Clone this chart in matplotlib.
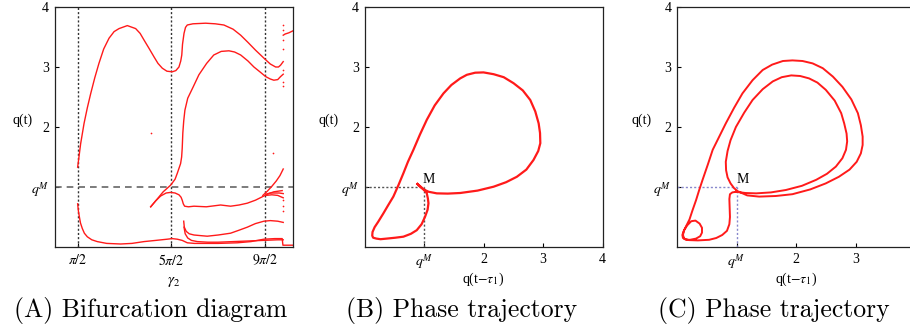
import numpy as np
import matplotlib.pyplot as plt

plt.rcParams['font.family'] = ['Liberation Serif', 'DejaVu Serif']
plt.rcParams['mathtext.fontset'] = 'stix'

# ---- panel A: bifurcation branches (gamma_2 vs q) ----
upper_x = [1.55, 1.75, 1.98, 2.2, 2.43, 2.7, 2.98, 3.3, 3.66, 4.0, 4.33, 4.89, 5.45, 5.75,
           6.01, 6.35, 6.68, 6.95, 7.24, 7.55, 7.91, 8.15, 8.36, 8.48, 8.55, 8.6, 8.7, 8.8,
           8.92, 9.3, 10.15, 10.8, 11.38, 12.0, 12.51, 13.0, 13.51, 13.85, 14.19, 14.5,
           14.86, 15.05, 15.19, 15.37]
upper_y = [1.33, 1.72, 2.06, 2.32, 2.56, 2.82, 3.06, 3.30, 3.48, 3.59, 3.64, 3.69, 3.64, 3.56,
           3.45, 3.31, 3.17, 3.06, 2.98, 2.93, 2.92, 2.94, 3.0, 3.1, 3.2, 3.38, 3.56, 3.66,
           3.70, 3.72, 3.73, 3.72, 3.70, 3.63, 3.53, 3.41, 3.28, 3.20, 3.12, 3.05,
           3.00, 3.0, 3.03, 3.09]

arc2_x = [6.46, 6.9, 7.3, 7.8, 8.1, 8.25, 8.47, 8.54, 8.58, 8.62, 8.68, 8.76, 8.95, 9.32, 9.7,
          10.22, 10.7, 11.2, 11.72, 12.1, 12.51, 13.0, 13.4, 13.8, 14.19, 14.5, 14.74, 15.0,
          15.19, 15.37]
arc2_y = [0.67, 0.80, 0.92, 1.03, 1.13, 1.23, 1.39, 1.5, 1.65, 1.9, 2.1, 2.28, 2.48, 2.67, 2.87,
          3.06, 3.20, 3.26, 3.27, 3.25, 3.20, 3.10, 3.0, 2.92, 2.84, 2.80, 2.78, 2.79,
          2.84, 2.88]

mid_x = [6.46, 6.8, 7.13, 7.5, 7.8, 8.1, 8.36, 8.5, 8.58, 8.65, 8.74, 9.0, 9.37, 10.2, 11.16,
         11.83, 12.4, 12.95, 13.5, 14.07, 14.4, 14.74, 15.3]
mid_y = [0.67, 0.77, 0.85, 0.90, 0.91, 0.90, 0.87, 0.83, 0.78, 0.72, 0.68, 0.67, 0.68, 0.67, 0.70,
         0.68, 0.70, 0.73, 0.78, 0.85, 0.89, 0.92, 0.94]

low_x = [1.55, 1.6, 1.66, 1.74, 1.86, 2.0, 2.2, 2.5, 2.87, 3.5, 4.44, 5.2, 6.01, 6.8, 7.57,
         7.9, 8.25, 8.58, 8.92, 9.4, 10.04, 11.0, 12.28, 13.2, 14.07, 14.8, 15.3, 15.35,
         15.5, 16.0]
low_y = [0.72, 0.60, 0.51, 0.40, 0.31, 0.23, 0.17, 0.12, 0.09, 0.06, 0.05, 0.06, 0.09, 0.11, 0.13,
         0.14, 0.13, 0.11, 0.07, 0.06, 0.06, 0.06, 0.07, 0.09, 0.13, 0.14, 0.14, 0.03,
         0.03, 0.03]

c1_x = [8.68, 8.72, 8.85, 9.05, 9.37, 9.8, 10.26, 11.0, 11.83, 12.4, 12.95, 13.5, 14.07, 14.5,
        15.0, 15.37]
c1_y = [0.43, 0.33, 0.26, 0.22, 0.20, 0.19, 0.18, 0.20, 0.23, 0.28, 0.33, 0.39, 0.43, 0.44,
        0.43, 0.41]

c2_x = [8.7, 8.78, 8.95, 9.2, 9.6, 10.3, 11.0, 12.0, 13.0, 14.0, 15.0, 15.37]
c2_y = [0.33, 0.22, 0.15, 0.11, 0.09, 0.08, 0.08, 0.09, 0.10, 0.11, 0.12, 0.12]

r1_x = [14.0, 14.3, 14.6, 14.9, 15.15, 15.37]
r1_y = [0.86, 0.93, 1.01, 1.10, 1.19, 1.30]
r2_x = [14.2, 14.5, 14.8, 15.1, 15.37]
r2_y = [0.88, 0.90, 0.90, 0.90, 0.89]
r3_x = [14.2, 14.6, 15.0, 15.37]
r3_y = [0.86, 0.87, 0.86, 0.82]

stub_x = [15.37, 15.5, 15.75, 16.0]
stub_y = [3.53, 3.55, 3.57, 3.60]

dots_x = [6.48, 14.66, 15.37, 15.37, 15.37, 15.37, 15.37, 15.37, 15.37, 15.37, 15.37, 15.37]
dots_y = [1.9, 1.56, 3.7, 3.62, 3.45, 3.3, 2.95, 2.75, 2.68, 0.78, 0.68, 0.6]

# ---- panel B: phase trajectory ----
b_x = [0.89, 0.95, 0.99, 1.08, 1.215, 1.40, 1.608, 1.90, 2.17, 2.38, 2.56, 2.72, 2.84, 2.92,
       2.955, 2.95, 2.927, 2.87, 2.786, 2.66, 2.505, 2.34, 2.17, 2.0, 1.86, 1.72, 1.608,
       1.46, 1.327, 1.18, 1.047, 0.93, 0.822, 0.73, 0.654, 0.57, 0.485, 0.40, 0.317, 0.23,
       0.17, 0.135, 0.13, 0.145, 0.2, 0.27, 0.373, 0.52, 0.654, 0.78, 0.878, 0.96, 1.018,
       1.06, 1.075, 1.065, 1.047, 1.02, 0.99, 0.93, 0.89]
b_y = [1.05, 1.0, 0.961, 0.92, 0.894, 0.89, 0.90, 0.94, 1.005, 1.08, 1.17, 1.29, 1.45, 1.60,
       1.73, 1.90, 2.06, 2.26, 2.45, 2.61, 2.73, 2.83, 2.88, 2.91, 2.905, 2.87, 2.81,
       2.70, 2.56, 2.36, 2.12, 1.87, 1.62, 1.42, 1.23, 1.03, 0.84, 0.70, 0.56, 0.42,
       0.33, 0.25, 0.19, 0.155, 0.14, 0.13, 0.14, 0.155, 0.172, 0.22, 0.28, 0.38, 0.505,
       0.62, 0.728, 0.81, 0.894, 0.93, 0.961, 1.01, 1.05]

# ---- panel C: phase trajectory (period doubled) ----
c_x = [0.99, 1.15, 1.33, 1.58, 1.83, 2.10, 2.34, 2.52, 2.67, 2.78, 2.84, 2.86, 2.85, 2.81,
       2.76, 2.65, 2.50, 2.36, 2.22, 2.07, 1.92, 1.76, 1.61, 1.44, 1.27, 1.13, 0.99, 0.90,
       0.85, 0.82, 0.825, 0.85, 0.90, 0.96, 1.02,
       1.18, 1.38, 1.66, 1.94, 2.24, 2.50, 2.72, 2.90, 3.02, 3.09, 3.12, 3.12, 3.09, 3.04,
       2.93, 2.78, 2.62, 2.45, 2.28, 2.11, 1.94, 1.78, 1.60, 1.44, 1.27, 1.10, 0.96, 0.82,
       0.71, 0.60, 0.52, 0.43, 0.37, 0.32, 0.26, 0.21, 0.15, 0.11,
       0.09, 0.10, 0.15, 0.22, 0.32, 0.39, 0.42, 0.42, 0.38, 0.31, 0.24, 0.17, 0.12, 0.10,
       0.12, 0.20, 0.35, 0.54, 0.66, 0.76, 0.84, 0.88, 0.89, 0.885, 0.88, 0.89, 0.93, 0.99]
c_y = [0.92, 0.90, 0.894, 0.91, 0.95, 1.02, 1.12, 1.22, 1.34, 1.48, 1.62, 1.76, 1.89, 2.06,
       2.23, 2.44, 2.62, 2.74, 2.81, 2.85, 2.86, 2.83, 2.76, 2.63, 2.45, 2.24, 2.0, 1.78,
       1.6, 1.42, 1.28, 1.16, 1.06, 0.98, 0.93,
       0.86, 0.84, 0.85, 0.88, 0.96, 1.06, 1.17, 1.29, 1.42, 1.56, 1.70, 1.84, 2.03, 2.23,
       2.46, 2.67, 2.84, 2.98, 3.06, 3.10, 3.11, 3.10, 3.04, 2.95, 2.78, 2.56, 2.32, 2.06,
       1.84, 1.62, 1.38, 1.12, 0.94, 0.78, 0.61, 0.46, 0.34, 0.26,
       0.20, 0.15, 0.12, 0.12, 0.14, 0.18, 0.24, 0.32, 0.39, 0.44, 0.43, 0.36, 0.28, 0.20,
       0.14, 0.115, 0.11, 0.12, 0.15, 0.20, 0.27, 0.38, 0.50, 0.65, 0.80, 0.88, 0.91, 0.92]

q_M = 1.0
red = '#ff1a1a'
W, H = 910, 329
fig = plt.figure(figsize=(W / 100, H / 100), dpi=100)

def frame(ax):
    ax.set_ylim(0, 4)
    ax.tick_params(direction='in', length=3, width=0.8, labelsize=10, pad=4)
    for s in ax.spines.values():
        s.set_linewidth(0.9)
        s.set_color('#222222')
    ax.set_yticks([q_M, 2, 3, 4])
    ax.set_yticklabels(['$q^M$', '2', '3', '4'])
    ax.set_ylabel('q(t)', rotation=0, fontsize=10)

# panel A
axA = fig.add_axes([54.6 / W, 82 / H, 238 / W, 240 / H])
frame(axA)
axA.set_xlim(0, 16)
for xv in [np.pi / 2, 5 * np.pi / 2, 9 * np.pi / 2]:
    axA.axvline(xv, color='#333333', ls=(0, (1.5, 1.5)), lw=1.0)
axA.axhline(q_M, color='#666666', ls=(0, (4, 3)), lw=1.2)
for bx, by in [(upper_x, upper_y), (arc2_x, arc2_y), (mid_x, mid_y), (low_x, low_y),
               (c1_x, c1_y), (c2_x, c2_y), (r1_x, r1_y), (r2_x, r2_y), (r3_x, r3_y),
               (stub_x, stub_y)]:
    axA.plot(bx, by, color=red, lw=1.0)
axA.scatter(dots_x, dots_y, s=1.5, color=red, lw=0)
axA.set_xticks([np.pi / 2, 5 * np.pi / 2, 9 * np.pi / 2])
axA.set_xticklabels([r'$\pi/2$', r'$5\pi/2$', r'$9\pi/2$'])
axA.set_xlabel(r'$\gamma_2$', fontsize=11)
axA.xaxis.set_label_coords(0.5, -0.115)
axA.yaxis.set_label_coords(-0.135, 0.5)

# panel B
axB = fig.add_axes([364.5 / W, 82 / H, 238 / W, 240 / H])
frame(axB)
axB.set_xlim(0, 4)
axB.plot([0, q_M], [q_M, q_M], color='#555555', ls=(0, (1.5, 1.5)), lw=1.0)
axB.plot([q_M, q_M], [0, q_M], color='#555555', ls=(0, (1.5, 1.5)), lw=1.0)
axB.plot(b_x, b_y, color=red, lw=1.6)
axB.text(q_M - 0.02, q_M + 0.07, 'M', fontsize=10)
axB.set_xticks([q_M, 2, 3, 4])
axB.set_xticklabels(['$q^M$', '2', '3', '4'])
axB.set_xlabel(r'q(t$-\tau_1$)', fontsize=10)
axB.xaxis.set_label_coords(0.5, -0.1)
axB.yaxis.set_label_coords(-0.15, 0.5)

# panel C (its right edge runs past the figure, as in the original crop)
axC = fig.add_axes([677 / W, 82 / H, 238 / W, 240 / H])
frame(axC)
axC.set_xlim(0, 4)
axC.plot([0, q_M], [q_M, q_M], color='#8888cc', ls=(0, (1.5, 1.5)), lw=1.0)
axC.plot([q_M, q_M], [0, q_M], color='#8888cc', ls=(0, (1.5, 1.5)), lw=1.0)
axC.plot(c_x, c_y, color=red, lw=1.4)
axC.text(q_M, q_M + 0.07, 'M', fontsize=10)
axC.set_xticks([q_M, 2, 3])
axC.set_xticklabels(['$q^M$', '2', '3'])
axC.set_xlabel(r'q(t$-\tau_1$)', fontsize=10)
axC.xaxis.set_label_coords(0.5, -0.1)
axC.yaxis.set_label_coords(-0.15, 0.5)

captions = ['(A) Bifurcation diagram', '(B) Phase trajectory', '(C) Phase trajectory']
for cx, cap in zip([151, 462, 774], captions):
    fig.text(cx / W, 1 - 311 / H, cap, family='cmr10', fontsize=18.5, ha='center', va='center')

fig.savefig('out.png', dpi=100)
